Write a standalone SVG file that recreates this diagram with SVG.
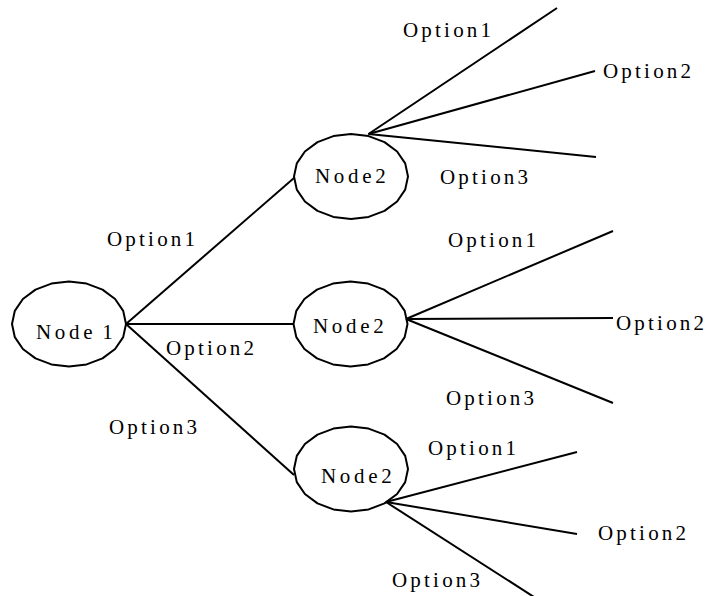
<svg xmlns="http://www.w3.org/2000/svg" width="707" height="596" viewBox="0 0 707 596">
<style>
.node{fill:none;stroke:#000;stroke-width:2;stroke-linejoin:round}
.edge{stroke:#000;stroke-width:2;fill:none}
text{font-family:"Liberation Serif","Times New Roman",serif;font-size:21px;letter-spacing:3.2px;fill:#000}
.nt{letter-spacing:3.7px}
.n1{word-spacing:-3px}
</style>
<defs>
<polygon id="ell" class="node" points="57,0 54.2,13.1 46.1,25 33.5,34.4 17.6,40.4 0,42.5 -17.6,40.4 -33.5,34.4 -46.1,25 -54.2,13.1 -57,0 -54.2,-13.1 -46.1,-25 -33.5,-34.4 -17.6,-40.4 0,-42.5 17.6,-40.4 33.5,-34.4 46.1,-25 54.2,-13.1"/>
</defs>
<rect width="707" height="596" fill="#fff"/>
<g id="connectors">
<line class="edge" x1="126" y1="324" x2="294" y2="178"/>
<line class="edge" x1="126" y1="324" x2="294" y2="324"/>
<line class="edge" x1="126" y1="324" x2="294" y2="475"/>
<line class="edge" x1="368.5" y1="134" x2="557" y2="8"/>
<line class="edge" x1="368.5" y1="134" x2="595" y2="71"/>
<line class="edge" x1="368.5" y1="134" x2="596" y2="157"/>
<line class="edge" x1="406" y1="319" x2="613" y2="231"/>
<line class="edge" x1="406" y1="319" x2="613" y2="318"/>
<line class="edge" x1="406" y1="319" x2="613" y2="403"/>
<line class="edge" x1="386" y1="502" x2="577" y2="452"/>
<line class="edge" x1="386" y1="502" x2="577" y2="534"/>
<line class="edge" x1="386" y1="502" x2="534" y2="597"/>
</g>
<g id="labels">
<text x="107" y="246">Option1</text>
<text x="166" y="355">Option2</text>
<text x="109" y="434">Option3</text>
<text x="403" y="37">Option1</text>
<text x="603" y="78">Option2</text>
<text x="440" y="184">Option3</text>
<text x="448" y="247">Option1</text>
<text x="616" y="330">Option2</text>
<text x="446" y="405">Option3</text>
<text x="428" y="455">Option1</text>
<text x="598" y="540">Option2</text>
<text x="392" y="587">Option3</text>
</g>
<g id="node1">
<use href="#ell" x="69" y="324"/>
<text x="36" y="339" class="nt n1">Node 1</text>
</g>
<g id="node2a">
<use href="#ell" x="351" y="176.5"/>
<text x="315" y="183" class="nt">Node2</text>
</g>
<g id="node2b">
<use href="#ell" x="350.5" y="324"/>
<text x="313" y="333" class="nt">Node2</text>
</g>
<g id="node2c">
<use href="#ell" x="351" y="469"/>
<text x="321" y="483" class="nt">Node2</text>
</g>
</svg>
